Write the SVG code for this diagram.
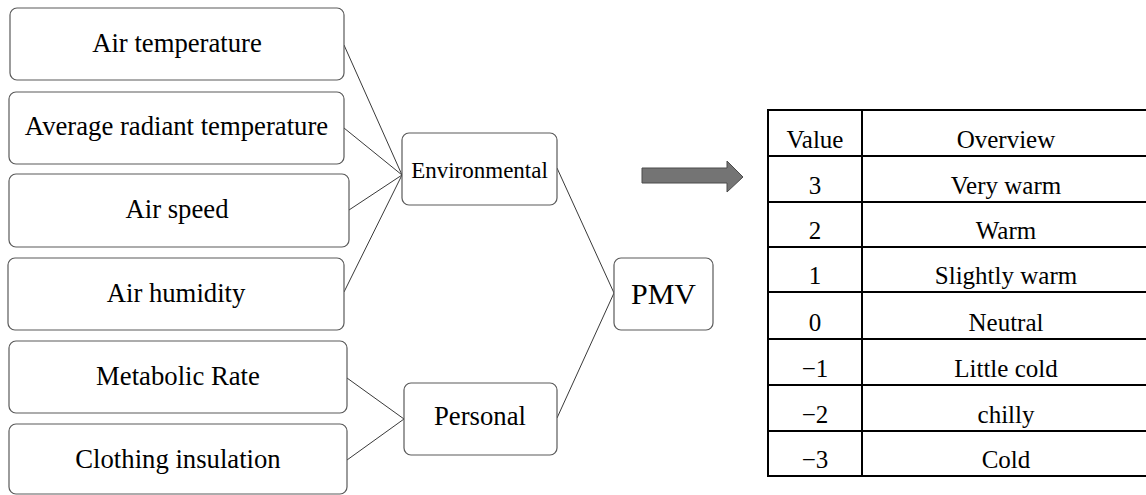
<svg xmlns="http://www.w3.org/2000/svg" width="1146" height="495" viewBox="0 0 1146 495">
<style>
.box{fill:#fff;stroke:#5a5a5a;stroke-width:1.2}
.t{font-family:"Liberation Serif","Times New Roman",serif;fill:#000;text-anchor:middle}
.f26{font-size:26.7px}
.conn line{stroke:#222;stroke-width:0.9}
.tbl line{stroke:#000;stroke-width:2}
.tt{font-family:"Liberation Serif","Times New Roman",serif;font-size:25px;fill:#000;text-anchor:middle}
</style>
<rect width="1146" height="495" fill="#fff"/>
<g id="connectors" class="conn">
<line x1="344" y1="45" x2="402" y2="175"/>
<line x1="344" y1="128" x2="402" y2="175"/>
<line x1="349" y1="210" x2="402" y2="175"/>
<line x1="344" y1="292" x2="402" y2="175"/>
<line x1="347" y1="378" x2="404" y2="419"/>
<line x1="347" y1="460" x2="404" y2="419"/>
<line x1="557" y1="168" x2="614" y2="293"/>
<line x1="557" y1="418" x2="614" y2="293"/>
</g>
<g id="n-air-temperature"><rect class="box" x="10" y="8" width="334" height="72" rx="7"/><text class="t f26" x="177" y="52">Air temperature</text></g>
<g id="n-avg-radiant"><rect class="box" x="9" y="92" width="335" height="72" rx="7"/><text class="t f26" x="176.5" y="135">Average radiant temperature</text></g>
<g id="n-air-speed"><rect class="box" x="9" y="174" width="340" height="73" rx="7"/><text class="t f26" x="177" y="218">Air speed</text></g>
<g id="n-air-humidity"><rect class="box" x="8" y="258" width="336" height="72" rx="7"/><text class="t f26" x="176" y="302">Air humidity</text></g>
<g id="n-metabolic"><rect class="box" x="9" y="341" width="338" height="72" rx="7"/><text class="t f26" x="178" y="385">Metabolic Rate</text></g>
<g id="n-clothing"><rect class="box" x="9" y="424" width="338" height="70" rx="7"/><text class="t f26" x="178" y="468">Clothing insulation</text></g>
<g id="n-environmental"><rect class="box" x="402" y="133" width="155" height="72" rx="7"/><text class="t" style="font-size:23px" x="479.5" y="178">Environmental</text></g>
<g id="n-personal"><rect class="box" x="404" y="383" width="153" height="72" rx="7"/><text class="t f26" x="480" y="425">Personal</text></g>
<g id="n-pmv"><rect class="box" x="614" y="258" width="99" height="72" rx="7"/><text class="t" style="font-size:30px" x="663.5" y="304">PMV</text></g>
<g id="arrow"><polygon points="642,168 727,168 727,161 743,177 727,192 727,183 642,183" fill="#747474" stroke="#4a4a4a" stroke-width="1"/></g>
<g id="table" class="tbl">
<line x1="767" y1="110" x2="1146" y2="110"/>
<line x1="767" y1="156" x2="1146" y2="156"/>
<line x1="767" y1="202" x2="1146" y2="202"/>
<line x1="767" y1="247" x2="1146" y2="247"/>
<line x1="767" y1="292" x2="1146" y2="292"/>
<line x1="767" y1="339" x2="1146" y2="339"/>
<line x1="767" y1="385" x2="1146" y2="385"/>
<line x1="767" y1="431" x2="1146" y2="431"/>
<line x1="767" y1="476" x2="1146" y2="476"/>
<line x1="768" y1="109" x2="768" y2="477"/>
<line x1="862" y1="109" x2="862" y2="477"/>
<text class="tt" x="815" y="148">Value</text><text class="tt" x="1006" y="148">Overview</text>
<text class="tt" x="815" y="194">3</text><text class="tt" x="1006" y="194">Very warm</text>
<text class="tt" x="815" y="239">2</text><text class="tt" x="1006" y="239">Warm</text>
<text class="tt" x="815" y="284">1</text><text class="tt" x="1006" y="284">Slightly warm</text>
<text class="tt" x="815" y="331">0</text><text class="tt" x="1006" y="331">Neutral</text>
<text class="tt" x="815" y="377">−1</text><text class="tt" x="1006" y="377">Little cold</text>
<text class="tt" x="815" y="423">−2</text><text class="tt" x="1006" y="423">chilly</text>
<text class="tt" x="815" y="468">−3</text><text class="tt" x="1006" y="468">Cold</text>
</g>
</svg>
